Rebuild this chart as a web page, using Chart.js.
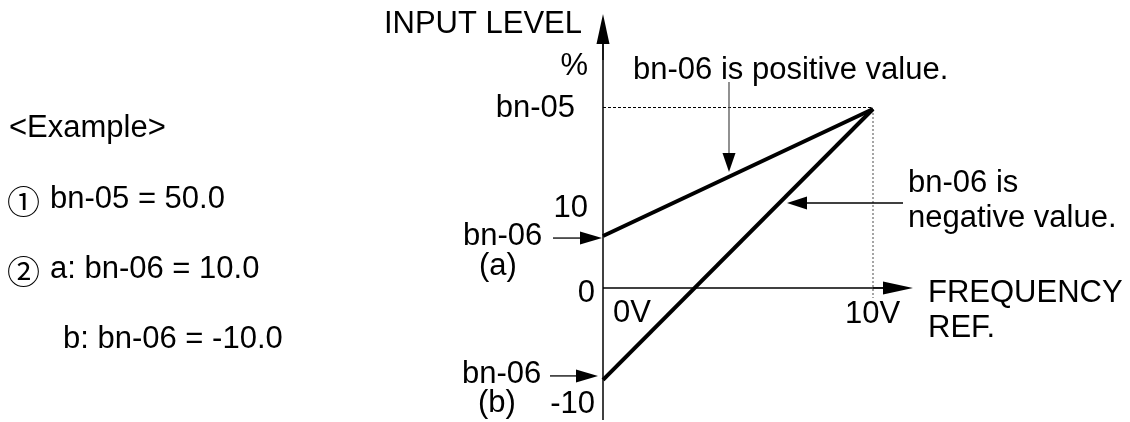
<!DOCTYPE html>
<html>
<head>
<meta charset="utf-8">
<title>Input level vs frequency reference</title>
<script src="https://cdn.jsdelivr.net/npm/chart.js@4/dist/chart.umd.min.js"></script>
<style>
  body { margin: 0; background: #fff; }
  #wrap { width: 1130px; height: 422px; }
</style>
</head>
<body>
<div id="wrap"><canvas id="myChart" width="1130" height="422"></canvas></div>
<script>
// valeurs lues sur le schéma (le dessin n'est pas à l'échelle)
const freqVolts = [0, 10]; // 0V -> 10V
const lineA = [14.5, 50]; // bn-06 positif (a)
const lineB = [-25.7, 50]; // bn-06 négatif (b)
const bn05 = 50;
const yMin = -26;
const yMax = 50;

const FONT = "31px 'Liberation Sans', Arial, sans-serif";

// petite fonction pour une flèche (trait + pointe pleine)
function arrow(ctx, x1, y1, x2, y2, headLen, headHalf, color) {
  const ang = Math.atan2(y2 - y1, x2 - x1);
  const bx = x2 - headLen * Math.cos(ang);
  const by = y2 - headLen * Math.sin(ang);
  ctx.strokeStyle = color || "#000";
  ctx.lineWidth = 1.3;
  ctx.beginPath();
  ctx.moveTo(x1, y1);
  ctx.lineTo(bx, by);
  ctx.stroke();
  ctx.fillStyle = "#000";
  ctx.beginPath();
  ctx.moveTo(x2, y2);
  ctx.lineTo(bx + headHalf * Math.sin(ang), by - headHalf * Math.cos(ang));
  ctx.lineTo(bx - headHalf * Math.sin(ang), by + headHalf * Math.cos(ang));
  ctx.closePath();
  ctx.fill();
}

function txt(ctx, s, x, y, align) {
  ctx.textAlign = align || "left";
  ctx.fillText(s, x, y);
}

const schemaPlugin = {
  id: "schema",
  beforeDatasetsDraw(chart) {
    const ctx = chart.ctx;
    const xs = chart.scales.x;
    const ys = chart.scales.y;
    const x0 = xs.getPixelForValue(0);
    const x10 = xs.getPixelForValue(10);
    const y0 = ys.getPixelForValue(0);
    const yTop = ys.getPixelForValue(bn05);
    ctx.save();
    // axes
    ctx.strokeStyle = "#000";
    ctx.lineWidth = 1.5;
    ctx.beginPath();
    ctx.moveTo(x0, 420);
    ctx.lineTo(x0, 40);
    ctx.stroke();
    arrow(ctx, x0, 60, x0, 14, 30, 6.5);
    ctx.lineWidth = 1.5;
    ctx.beginPath();
    ctx.moveTo(x0, y0);
    ctx.lineTo(x10 + 15, y0);
    ctx.stroke();
    arrow(ctx, x10, y0, x10 + 40, y0, 30, 6.5);
    // pointillés
    ctx.lineWidth = 1;
    ctx.setLineDash([3, 2]);
    ctx.beginPath();
    ctx.moveTo(x0, yTop - 1.5);
    ctx.lineTo(x10, yTop - 1.5);
    ctx.stroke();
    ctx.strokeStyle = "#888";
    ctx.lineWidth = 1.5;
    ctx.setLineDash([2, 2]);
    ctx.beginPath();
    ctx.moveTo(x10, yTop);
    ctx.lineTo(x10, y0 + 10);
    ctx.stroke();
    ctx.setLineDash([]);
    ctx.restore();
  },
  afterDatasetsDraw(chart) {
    const ctx = chart.ctx;
    const xs = chart.scales.x;
    const ys = chart.scales.y;
    const x0 = xs.getPixelForValue(0);
    const x10 = xs.getPixelForValue(10);
    const y0 = ys.getPixelForValue(0);
    const yA = ys.getPixelForValue(lineA[0]);
    const yB = ys.getPixelForValue(lineB[0]);
    const yTop = ys.getPixelForValue(bn05);
    ctx.save();
    // flèches d'annotation
    arrow(ctx, 729, 82, 729, 172, 19, 6.5, "#555");
    arrow(ctx, 903, 203, 787, 203, 20, 6.5);
    arrow(ctx, x0 - 50, yA + 2, x0 - 1, yA + 2, 22, 6.5);
    arrow(ctx, x0 - 53, yB - 4, x0 - 5, yB - 4, 22, 6.5);

    // textes
    ctx.fillStyle = "#000";
    ctx.font = FONT;
    ctx.textBaseline = "alphabetic";
    txt(ctx, "INPUT LEVEL", x0 - 21, 33, "right");
    txt(ctx, "%", x0 - 15, 75, "right");
    txt(ctx, "bn-06 is positive value.", 633, 79);
    txt(ctx, "bn-05", x0 - 28, yTop + 8, "right");
    txt(ctx, "10", x0 - 15, yA - 19, "right");
    txt(ctx, "bn-06", 463, yA + 9);
    txt(ctx, "(a)", 479, yA + 39);
    txt(ctx, "0", x0 - 8, y0 + 14, "right");
    txt(ctx, "0V", x0 + 10, y0 + 34);
    txt(ctx, "10V", x10 - 28, y0 + 35);
    txt(ctx, "FREQUENCY", 928, y0 + 14);
    txt(ctx, "REF.", 928, y0 + 49);
    txt(ctx, "bn-06 is", 908, 192);
    txt(ctx, "negative value.", 908, 227);
    txt(ctx, "bn-06", 462, yB + 3);
    txt(ctx, "(b)", 478, yB + 32);
    txt(ctx, "-10", x0 - 8, yB + 33, "right");

    // exemple à gauche
    txt(ctx, "<Example>", 9, 137);
    txt(ctx, "bn-05 = 50.0", 50, 208);
    txt(ctx, "a: bn-06 = 10.0", 50, 278);
    txt(ctx, "b: bn-06 = -10.0", 63, 348);
    ctx.font = "33px 'Noto Sans CJK JP', 'DejaVu Sans', sans-serif";
    txt(ctx, "①", 7, 214);
    txt(ctx, "②", 7, 284);
    ctx.restore();
  },
};

const data = {
  datasets: [
    {
      label: "a",
      data: freqVolts.map((v, i) => ({ x: v, y: lineA[i] })),
      borderColor: "#000",
      borderWidth: 4,
      pointRadius: 0,
      clip: false,
    },
    {
      label: "b",
      data: freqVolts.map((v, i) => ({ x: v, y: lineB[i] })),
      borderColor: "#000",
      borderWidth: 4,
      pointRadius: 0,
      clip: false,
    },
  ],
};

const config = {
  type: "line",
  data: data,
  options: {
    responsive: false,
    animation: false,
    layout: {
      padding: { left: 603, right: 257, top: 109, bottom: 41 },
    },
    plugins: {
      legend: { display: false },
      tooltip: { enabled: false },
    },
    scales: {
      x: { type: "linear", min: 0, max: 10, display: false },
      y: { type: "linear", min: yMin, max: yMax, display: false },
    },
  },
  plugins: [schemaPlugin],
};

let context = document.getElementById("myChart").getContext("2d");
let chart = new Chart(context, config);
</script>
</body>
</html>
